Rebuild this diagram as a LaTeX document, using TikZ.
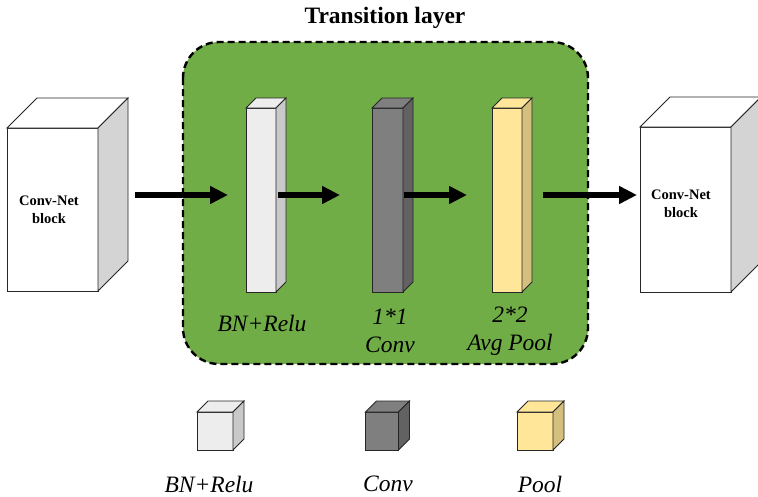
\documentclass[tikz,border=0pt]{standalone}
\usepackage{fontspec}
\setmainfont{Liberation Serif}
\usetikzlibrary{arrows.meta,calc}
\definecolor{grn}{HTML}{70AD47}
\definecolor{bnf}{HTML}{EDEDED}
\definecolor{bns}{HTML}{C9C9C9}
\definecolor{cvf}{HTML}{7F7F7F}
\definecolor{cvs}{HTML}{626262}
\definecolor{plf}{HTML}{FFE699}
\definecolor{pls}{HTML}{D5BF7F}
\definecolor{cns}{HTML}{D4D4D4}
\newcommand{\solidbox}[4]{% name, depth, side colour, top colour
  \draw[edge,fill=#4] (#1.north west) -- ++(#2,-#2) -- ($(#1.north east)+(#2,-#2)$) -- (#1.north east) -- cycle;
  \draw[edge,fill=#3] (#1.north east) -- ++(#2,-#2) -- ($(#1.south east)+(#2,-#2)$) -- (#1.south east) -- cycle;
}
\begin{document}
\begin{tikzpicture}[x=1pt,y=-1pt,
  edge/.style={draw=black!85,line width=0.9pt},
  face/.style={edge,inner sep=0pt,outer sep=0pt},
  arr/.style={line width=6pt,-{Triangle[length=18pt,width=17pt]}},
  bigtxt/.style={font=\bfseries\fontsize{14.5}{17.5}\selectfont,align=center},
  lab/.style={font=\itshape\fontsize{23.5}{28}\selectfont,align=center,inner sep=0pt}]
\clip (0,0) rectangle (758,496);
\fill[white] (0,0) rectangle (758,496);
% title
\node[font=\bfseries\fontsize{23.5}{27}\selectfont] (title) at (385,18) {Transition layer};
% transition layer frame
\draw[fill=grn,line width=2.4pt,dash pattern=on 7pt off 4pt,rounded corners=36pt] (183,42) rectangle (588,364);
% conv-net blocks
\node[face,fill=white,minimum width=91pt,minimum height=163pt] (lb) at (52.5,209.5) {};
\solidbox{lb}{30}{cns}{white}
\node[bigtxt] (lbt) at (49,210) {Conv-Net\\block};
\node[face,fill=white,minimum width=91pt,minimum height=165pt] (rb) at (685.5,209.5) {};
\solidbox{rb}{30}{cns}{white}
\node[bigtxt] (rbt) at (681,204) {Conv-Net\\block};
% bars
\node[face,fill=bnf,minimum width=30pt,minimum height=184pt] (bn) at (261,200) {};
\solidbox{bn}{10}{bns}{bnf}
\node[face,fill=cvf,minimum width=31pt,minimum height=184pt] (cv) at (387.5,200) {};
\solidbox{cv}{10}{cvs}{cvf}
\node[face,fill=plf,minimum width=30pt,minimum height=184pt] (pl) at (507,200) {};
\solidbox{pl}{10}{pls}{plf}
% arrows
\draw[arr] ([xshift=37pt,yshift=14.5pt]lb.east) -- ([xshift=-18pt,yshift=5pt]bn.west);
\draw[arr] ([xshift=2pt,yshift=5pt]bn.east) -- ([xshift=-32pt,yshift=5pt]cv.west);
\draw[arr] ([xshift=1pt,yshift=5pt]cv.east) -- ([xshift=-25pt,yshift=5pt]pl.west);
\draw[arr] ([xshift=21pt,yshift=5pt]pl.east) -- ([xshift=-3pt,yshift=14.5pt]rb.west);
% bar labels
\node[lab] (bnl) at (262,323) {BN+Relu};
\node[lab] (cvl) at (390,331) {1*1\\Conv};
\node[lab] (pll) at (510,331) {2*2\\Avg Pool};
% legend
\node[face,fill=bnf,minimum width=36pt,minimum height=38pt] (lg1) at (215,431) {};
\solidbox{lg1}{11}{bns}{bnf}
\node[face,fill=cvf,minimum width=33pt,minimum height=38pt] (lg2) at (382,431) {};
\solidbox{lg2}{11}{cvs}{cvf}
\node[face,fill=plf,minimum width=36pt,minimum height=38pt] (lg3) at (535,431) {};
\solidbox{lg3}{11}{pls}{plf}
\node[lab] (lgt1) at (209,484) {BN+Relu};
\node[lab] (lgt2) at (388,484) {Conv};
\node[lab] (lgt3) at (540,484) {Pool};
\end{tikzpicture}
\end{document}
